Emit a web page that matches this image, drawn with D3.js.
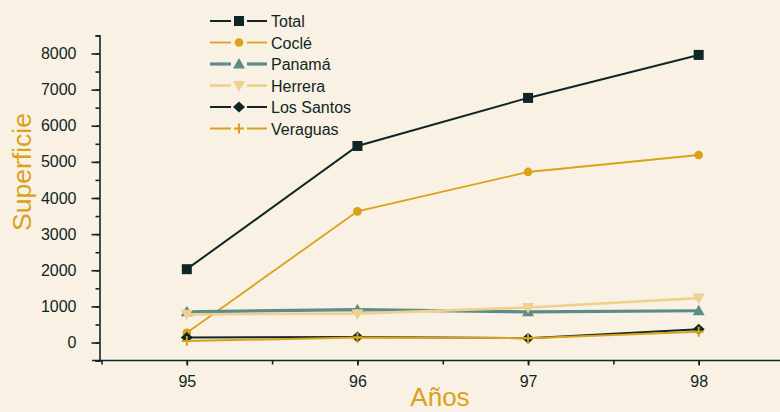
<!DOCTYPE html>
<html><head><meta charset="utf-8">
<script src="https://cdn.jsdelivr.net/npm/d3@7"></script>
<style>html,body{margin:0;padding:0;background:#f9f1e3;}svg{display:block;}</style>
</head><body>
<svg id="c" width="780" height="412"></svg>
<script>
const years = [95, 96, 97, 98];
const seriesNames = ["Total", "Coclé", "Panamá", "Herrera", "Los Santos", "Veraguas"];
const total = [2030, 5440, 6770, 7960];
const cocle = [270, 3630, 4720, 5190];
const panama = [850, 910, 850, 880];
const herrera = [780, 800, 970, 1230];
const losSantos = [140, 150, 120, 370];
const veraguas = [40, 140, 120, 300];
const yTicks = [0, 1000, 2000, 3000, 4000, 5000, 6000, 7000, 8000];
const xTicks = [95, 96, 97, 98];

const FONT = "Liberation Sans, Arial, sans-serif";
const dark = "#0f2626", gold = "#d9a21a", teal = "#5b8b8b", light = "#f0d08f";
const styles = [
  {c: dark, w: 2, sym: "square"},
  {c: gold, w: 1.8, sym: "circle"},
  {c: teal, w: 3.2, sym: "tri"},
  {c: light, w: 2.6, sym: "tridown"},
  {c: dark, w: 2, sym: "diamond"},
  {c: gold, w: 2, sym: "plus"}
];
const data = [total, cocle, panama, herrera, losSantos, veraguas];

const svg = d3.select("#c");
const x = d3.scaleLinear().domain([94.5, 98.5]).range([101.5, 784]);
const y = d3.scaleLinear().domain([-500, 8500]).range([360.6, 35.4]);

function symPath(s) {
  if (s === "square") return d3.symbol(d3.symbolSquare, 100)();
  if (s === "circle") return d3.symbol(d3.symbolCircle, 60)();
  if (s === "tri") return "M0,-6L6,4.5L-6,4.5Z";
  if (s === "tridown") return "M0,6L6,-4.5L-6,-4.5Z";
  if (s === "diamond") return "M0,-5.5L6,0L0,5.5L-6,0Z";
  if (s === "plus") return "M-5,0L5,0M0,-5L0,5";
}
function drawSym(g, s, cx, cy, c) {
  const p = g.append("path").attr("d", symPath(s)).attr("transform", `translate(${cx},${cy})`);
  if (s === "plus") p.attr("fill", "none").attr("stroke", c).attr("stroke-width", 2);
  else p.attr("fill", c);
}

// axes
const yAxisMinor = d3.axisLeft(y).tickValues(d3.range(-500, 8501, 500)).tickSize(4).tickFormat("");
svg.append("g").attr("transform", "translate(99.5,0)").call(yAxisMinor)
  .call(g => g.selectAll("line,path").attr("stroke", dark).attr("stroke-width", 1.6));
const yAxis = d3.axisLeft(y).tickValues(yTicks).tickSize(8).tickPadding(15).tickFormat(d3.format("d"));
svg.append("g").attr("transform", "translate(99.5,0)").call(yAxis)
  .call(g => g.select(".domain").remove())
  .call(g => g.selectAll("line").attr("stroke", dark).attr("stroke-width", 1.6))
  .call(g => g.selectAll("text").attr("fill", dark).attr("font-family", FONT).attr("font-size", 16));

const xAxisMinor = d3.axisBottom(x).tickValues(d3.range(94.5, 98.6, 0.5)).tickSize(4).tickFormat("");
svg.append("g").attr("transform", "translate(0,360.5)").call(xAxisMinor)
  .call(g => g.select(".domain").attr("d", "M92,0H790"))
  .call(g => g.selectAll("line,path").attr("stroke", dark).attr("stroke-width", 1.6));
const xAxis = d3.axisBottom(x).tickValues(xTicks).tickSize(5).tickPadding(10).tickFormat(d3.format("d"));
svg.append("g").attr("transform", "translate(0,360.5)").call(xAxis)
  .call(g => g.select(".domain").remove())
  .call(g => g.selectAll("line").attr("stroke", dark).attr("stroke-width", 1.6))
  .call(g => g.selectAll("text").attr("fill", dark).attr("font-family", FONT).attr("font-size", 16));

svg.append("text").attr("x", 440).attr("y", 406).attr("text-anchor", "middle")
  .attr("fill", gold).attr("font-family", FONT).attr("font-size", 26).text("Años");
svg.append("text").attr("transform", "translate(30.5,172) rotate(-90)").attr("text-anchor", "middle")
  .attr("fill", gold).attr("font-family", FONT).attr("font-size", 26.5).text("Superficie");

// lines
const line = d3.line().x((d, i) => x(years[i])).y(d => y(d));
data.forEach((vals, k) => {
  const st = styles[k];
  const g = svg.append("g");
  g.append("path").attr("d", line(vals)).attr("fill", "none").attr("stroke", st.c).attr("stroke-width", st.w);
  vals.forEach((v, i) => drawSym(g, st.sym, x(years[i]), y(v), st.c));
});

// legend
const lg = svg.append("g");
seriesNames.forEach((n, k) => {
  const st = styles[k];
  const cy = 21 + k * 21.5;
  lg.append("line").attr("x1", 210).attr("x2", 231).attr("y1", cy).attr("y2", cy).attr("stroke", st.c).attr("stroke-width", st.w);
  lg.append("line").attr("x1", 247).attr("x2", 267).attr("y1", cy).attr("y2", cy).attr("stroke", st.c).attr("stroke-width", st.w);
  drawSym(lg, st.sym, 239, cy, st.c);
  lg.append("text").attr("x", 271).attr("y", cy + 6.3).attr("fill", dark)
    .attr("font-family", FONT).attr("font-size", 16).text(n);
});
</script>
</body></html>
